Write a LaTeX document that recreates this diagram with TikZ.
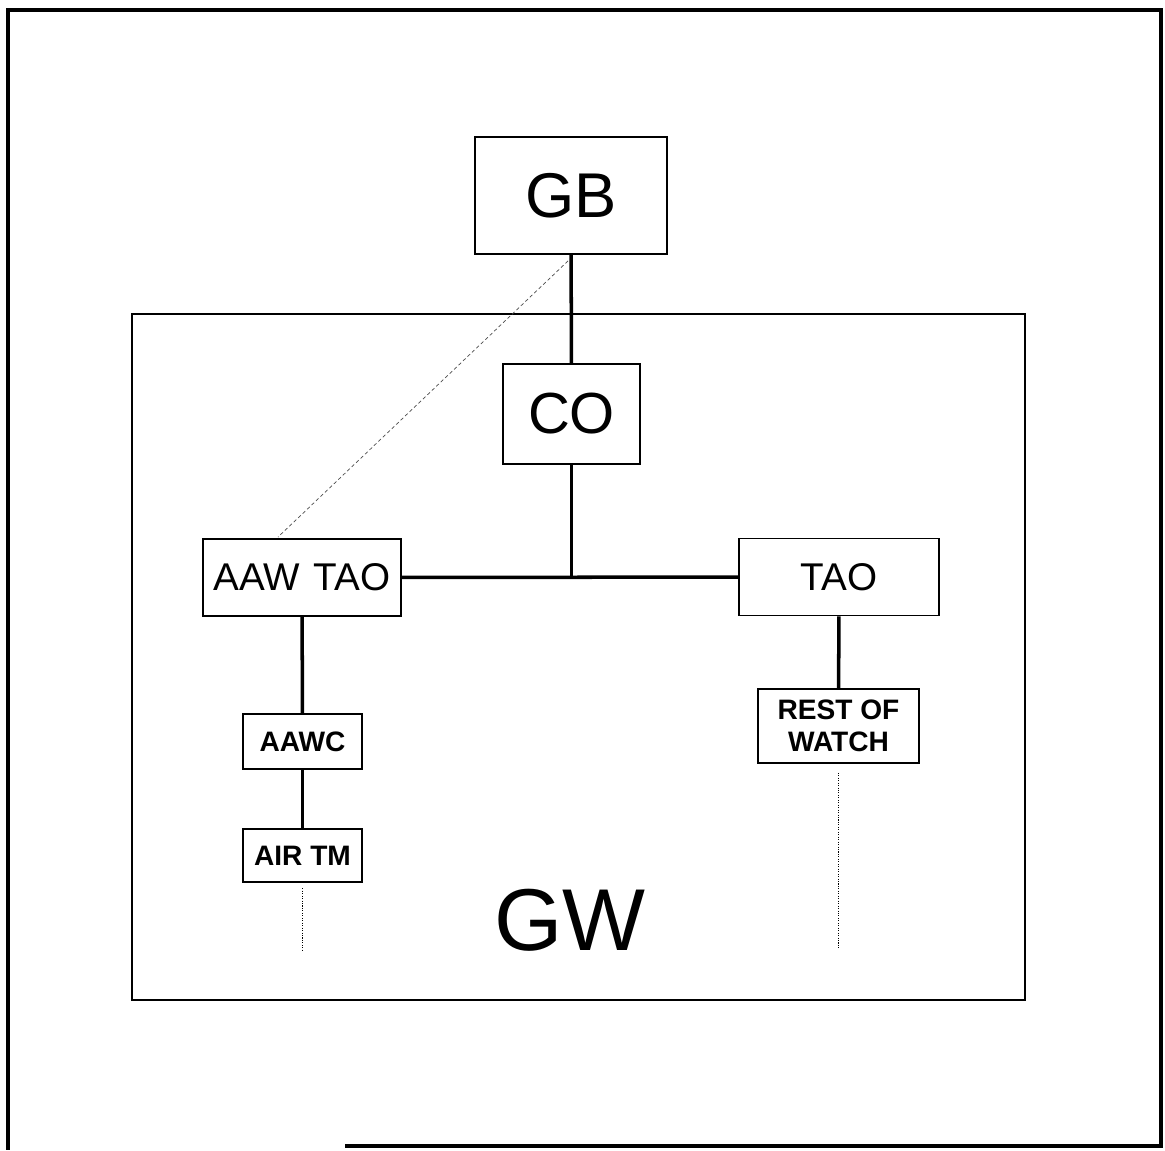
\documentclass[tikz,border=0pt]{standalone}
\usepackage{fontspec}
\setmainfont{Liberation Sans}
\usetikzlibrary{positioning,calc}

\begin{document}
\begin{tikzpicture}[x=0.02cm,y=-0.02cm,
  box/.style={draw,line width=1.1pt,inner sep=0pt,align=center},
  link/.style={line width=2pt},
  trail/.style={line width=0.6pt,dash pattern=on 0.6pt off 0.8pt},
  hint/.style={line width=0.4pt,dash pattern=on 2pt off 1.5pt,black!70}]
\useasboundingbox (0,0) rectangle (1165,1150);
% outer frame and the GW boundary
\draw[line width=2.6pt] (345,1146) -- (1161,1146) -- (1161,10) -- (8,10) -- (8,1150);
\draw[line width=1.1pt] (132,314) rectangle (1025,1000);
\node[font=\fontsize{50}{50}\selectfont] (gw) at (570,920) {GW};
% command chain
\node[box,minimum width=3.84cm,minimum height=2.34cm,font=\fontsize{36}{36}\selectfont] (gb) at (571,195.5) {GB};
\node[box,minimum width=2.74cm,minimum height=2.0cm,font=\fontsize{33}{33}\selectfont] (co) at (571.5,414) {CO};
\node[box,minimum width=3.96cm,minimum height=1.54cm,font=\fontsize{22}{22}\selectfont] (aawtao) at (302,577.5) {AAW\hspace{0.36em}TAO};
\node[box,minimum width=4.0cm,minimum height=1.54cm,font=\fontsize{22}{22}\selectfont] (tao) at (839,577) {TAO};
\node[box,minimum width=2.38cm,minimum height=1.1cm,font=\bfseries\fontsize{16}{16}\selectfont] (aawc) at (302.5,741.5) {AAWC};
\node[box,minimum width=2.38cm,minimum height=1.06cm,font=\bfseries\fontsize{16}{16}\selectfont] (airtm) at (302.5,855.5) {AIR TM};
\node[box,minimum width=3.22cm,minimum height=1.48cm,font=\bfseries\fontsize{16}{18}\selectfont] (rest) at (838.5,726) {REST OF\\WATCH};
% links
\draw[link] (gb) -- (co);
\draw[link] (co.south) -- (co.south |- aawtao.east);
\draw[link] (aawtao) -- (tao);
\draw[link] (aawtao) -- (aawc);
\draw[link] (aawc) -- (airtm);
\draw[link] (tao) -- (rest);
% open ends below
\coordinate (airend) at ($(airtm.south)+(0,68)$);
\coordinate (restend) at ($(rest.south)+(0,184)$);
\draw[trail] ([yshift=-3]airtm.south) -- (airend);
\draw[trail] ([yshift=-5]rest.south) -- (restend);
\draw[hint] ([shift={(-3,6)}]gb.south) -- ([shift={(-24,-1)}]aawtao.north);
\end{tikzpicture}
\end{document}
